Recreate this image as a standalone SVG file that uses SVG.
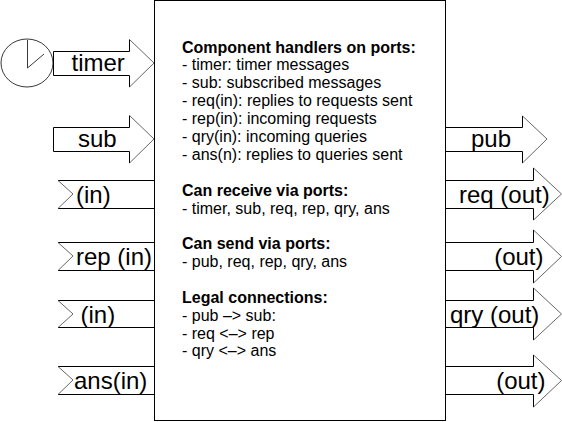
<svg xmlns="http://www.w3.org/2000/svg" width="562" height="422" viewBox="0 0 562 422">
<style>
text{font-family:"Liberation Sans",Arial,sans-serif;fill:#000}
.b{font-size:16px}
.h{font-size:16px;font-weight:bold}
.l{font-size:24px}
.s{fill:#fff;stroke:#000;stroke-width:1}
.f{fill:#fff;stroke:none}
.a{fill:none;stroke:#000;stroke-width:1}
.d{fill:none;stroke:#555;stroke-width:.9}
.c{fill:none;stroke:#222;stroke-width:.9}
.e{text-anchor:end}
</style>
<rect width="562" height="422" fill="#fff"/>
<g id="component"><rect class="s" x="154.500" y="0.500" width="291" height="420"/>
<g id="component-text">
<text class="h" x="182" y="52.500">Component handlers on ports:</text>
<text class="b" x="182" y="70">- timer: timer messages</text>
<text class="b" x="182" y="88">- sub: subscribed messages</text>
<text class="b" x="182" y="106">- req(in): replies to requests sent</text>
<text class="b" x="182" y="124">- rep(in): incoming requests</text>
<text class="b" x="182" y="142">- qry(in): incoming queries</text>
<text class="b" x="182" y="160">- ans(n): replies to queries sent</text>
<text class="h" x="182" y="196">Can receive via ports:</text>
<text class="b" x="182" y="214">- timer, sub, req, rep, qry, ans</text>
<text class="h" x="182" y="249">Can send via ports:</text>
<text class="b" x="182" y="267">- pub, req, rep, qry, ans</text>
<text class="h" x="182" y="303">Legal connections:</text>
<text class="b" x="182" y="321">- pub –&gt; sub:</text>
<text class="b" x="182" y="339">- req &lt;–&gt; rep</text>
<text class="b" x="182" y="356">- qry &lt;–&gt; ans</text>
</g></g>
<g id="clock"><ellipse class="c" cx="27" cy="63" rx="26" ry="24"/><path class="c" d="M27.500 40V68L44 54"/></g>
<g id="connectors">
<g id="timer"><path class="f" d="M53.500 51.500H129.500V39.500L154 63L129.500 86.500V75.500H53.500Z"/><path class="a" d="M129.500 39.500V51.500H53.500V75.500H129.500V87"/><path class="d" d="M129.500 39.500L154 63L129.500 87"/><text class="l" x="71.500" y="71">timer</text></g>
<g id="sub"><path class="f" d="M53.500 127.500H129.500V115.500L154 139L129.500 163V151.500H53.500Z"/><path class="a" d="M129.500 115.500V127.500H53.500V151.500H129.500V163"/><path class="d" d="M129.500 115.500L154 139L129.500 163"/><text class="l" x="78" y="147">sub</text></g>
<g id="req-in"><path class="a" d="M58 180.500H154M58 208.500H154"/><path class="d" d="M58 180.500L73 194L58 208.500"/><text class="l" x="76" y="203">(in)</text></g>
<g id="rep-in"><path class="a" d="M58 242.500H154M58 270.500H154"/><path class="d" d="M58 242.500L73 256L58 270.500"/><text class="l" x="76" y="265">rep (in)</text></g>
<g id="qry-in"><path class="a" d="M58 300.500H154M58 327.500H154"/><path class="d" d="M58 300.500L73 314L58 327.500"/><text class="l" x="80.500" y="323">(in)</text></g>
<g id="ans-in"><path class="a" d="M58 366.500H154M58 394.500H154"/><path class="d" d="M58 366.500L73 380L58 394.500"/><text class="l" x="74" y="389">ans(in)</text></g>
<g id="pub"><path class="f" d="M446 127.500H522.500V116L547 139L522.500 163V151.500H446Z"/><path class="a" d="M446 127.500H522.500V116M446 151.500H522.500V163"/><path class="d" d="M522.500 116L547 139L522.500 163"/><text class="l" x="471" y="147">pub</text></g>
<g id="req-out"><path class="f" d="M446 180.500H533.500V168L561.500 194L533.500 220V208.500H446Z"/><path class="a" d="M446 180.500H533.500V168M446 208.500H533.500V220"/><path class="d" d="M533.500 168L561.500 194L533.500 220"/><text class="l" x="459" y="203">req (out)</text></g>
<g id="rep-out"><path class="f" d="M446 242.500H533.500V230L561.500 256.500L533.500 283V270.500H446Z"/><path class="a" d="M446 242.500H533.500V230M446 270.500H533.500V283"/><path class="d" d="M533.500 230L561.500 256.500L533.500 283"/><text class="l e" x="543.500" y="265">(out)</text></g>
<g id="qry-out"><path class="f" d="M446 300.500H533.500V288L561.500 314L533.500 340V327.500H446Z"/><path class="a" d="M446 300.500H533.500V288M446 327.500H533.500V340"/><path class="d" d="M533.500 288L561.500 314L533.500 340"/><text class="l" x="450" y="323">qry (out)</text></g>
<g id="ans-out"><path class="f" d="M446 366.500H533.500V355L561.500 380.500L533.500 407V394.500H446Z"/><path class="a" d="M446 366.500H533.500V355M446 394.500H533.500V407"/><path class="d" d="M533.500 355L561.500 380.500L533.500 407"/><text class="l e" x="545.500" y="389">(out)</text></g>
</g>
</svg>
